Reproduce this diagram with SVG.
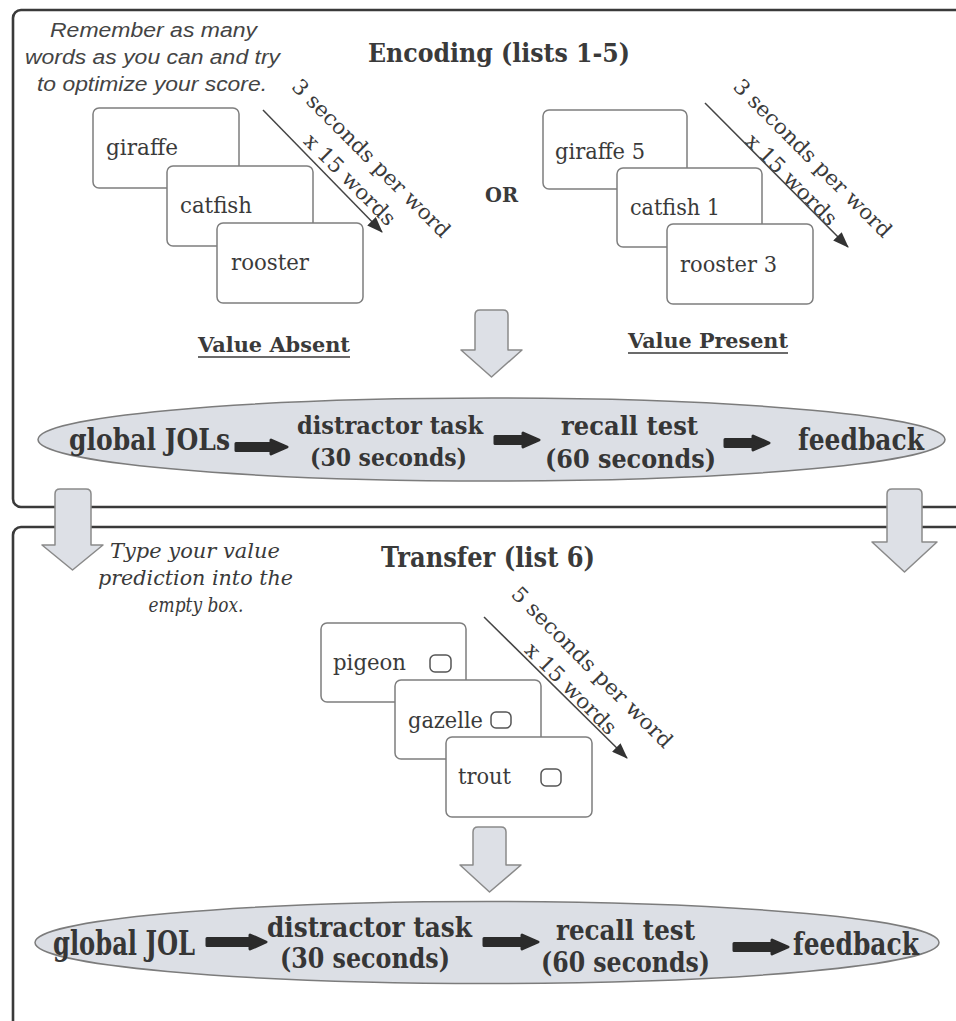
<svg xmlns="http://www.w3.org/2000/svg" width="956" height="1021" viewBox="0 0 956 1021">
<style>
.panel{fill:none;stroke:#3a3a3a;stroke-width:2.6}
.card{fill:#ffffff;stroke:#7e7e7e;stroke-width:1.5}
.cw{font-family:"DejaVu Serif","Liberation Serif",serif;font-size:23px;fill:#3a3a3a}
.title{font-family:"DejaVu Serif","Liberation Serif",serif;font-weight:bold;fill:#3a3a3a}
.diag{font-family:"DejaVu Serif","Liberation Serif",serif;font-size:21px;fill:#3a3a3a}
.note{font-family:"Liberation Sans",Arial,sans-serif;font-style:italic;font-size:20px;fill:#444444}
.note2{font-family:"DejaVu Serif","Liberation Serif",serif;font-style:italic;font-size:21px;fill:#3a3a3a}
.ell{fill:#dcdfe5;stroke:#7c7c7c;stroke-width:1.5}
.et{font-family:"DejaVu Serif","Liberation Serif",serif;font-weight:bold;fill:#363636}
.blk{fill:#2b2b2b;stroke:#2b2b2b;stroke-width:3;stroke-linejoin:round}
.big{fill:#dde0e6;stroke:#8a8a8a;stroke-width:1.5;stroke-linejoin:round}
.dl{stroke:#444444;stroke-width:1.5;fill:none}
.cb{fill:#ffffff;stroke:#555555;stroke-width:1.5}
</style>
<defs>
<marker id="ah" viewBox="0 0 16 12" refX="15" refY="6" markerWidth="16" markerHeight="12" markerUnits="userSpaceOnUse" orient="auto">
<path d="M0,0 L16,6 L0,12 Z" fill="#333333"/>
</marker>
</defs>

<g id="panel-encoding">
<rect class="panel" x="13" y="10" width="980" height="497" rx="8"/>
</g>
<g id="panel-transfer">
<rect class="panel" x="13" y="527" width="980" height="540" rx="8"/>
</g>

<g id="encoding-title">
<text class="title" x="368" y="62" font-size="26" textLength="262" lengthAdjust="spacingAndGlyphs">Encoding (lists 1-5)</text>
</g>
<g id="encoding-instruction">
<text class="note" x="153.5" y="37" text-anchor="middle" textLength="207" lengthAdjust="spacingAndGlyphs">Remember as many</text>
<text class="note" x="152.5" y="64" text-anchor="middle" textLength="255" lengthAdjust="spacingAndGlyphs">words as you can and try</text>
<text class="note" x="152" y="91" text-anchor="middle" textLength="230" lengthAdjust="spacingAndGlyphs">to optimize your score.</text>
</g>

<g id="cards-absent">
<rect class="card" x="93" y="108" width="146" height="80" rx="6"/>
<text class="cw" x="106" y="155" textLength="72" lengthAdjust="spacingAndGlyphs">giraffe</text>
<rect class="card" x="167" y="166" width="146" height="80" rx="6"/>
<text class="cw" x="180" y="213" textLength="72" lengthAdjust="spacingAndGlyphs">catfish</text>
<rect class="card" x="217" y="223" width="146" height="80" rx="6"/>
<text class="cw" x="231" y="270" textLength="78" lengthAdjust="spacingAndGlyphs">rooster</text>
</g>

<g id="cards-present">
<rect class="card" x="543" y="110" width="144" height="79" rx="6"/>
<text class="cw" x="555" y="159" textLength="90" lengthAdjust="spacingAndGlyphs">giraffe 5</text>
<rect class="card" x="617" y="168" width="145" height="79" rx="6"/>
<text class="cw" x="630" y="215" textLength="90" lengthAdjust="spacingAndGlyphs">catfish 1</text>
<rect class="card" x="667" y="224" width="146" height="80" rx="6"/>
<text class="cw" x="680" y="272" textLength="97" lengthAdjust="spacingAndGlyphs">rooster 3</text>
</g>

<g id="timing-absent">
<g transform="translate(360.5,169) rotate(45)">
<text class="diag" x="0" y="-8" text-anchor="middle" textLength="214" lengthAdjust="spacingAndGlyphs">3 seconds per word</text>
<text class="diag" x="0" y="22" text-anchor="middle" textLength="120" lengthAdjust="spacingAndGlyphs">x 15 words</text>
</g>
</g>
<g id="timing-present">
<g transform="translate(802,169) rotate(45)">
<text class="diag" x="0" y="-8" text-anchor="middle" textLength="214" lengthAdjust="spacingAndGlyphs">3 seconds per word</text>
<text class="diag" x="0" y="22" text-anchor="middle" textLength="120" lengthAdjust="spacingAndGlyphs">x 15 words</text>
</g>
</g>

<g id="or-label">
<text class="title" x="485" y="202" font-size="20" textLength="33" lengthAdjust="spacingAndGlyphs">OR</text>
</g>
<g id="label-absent">
<text class="title" x="198" y="352" font-size="21" textLength="152" lengthAdjust="spacingAndGlyphs">Value Absent</text>
<line x1="198" y1="357" x2="350" y2="357" stroke="#3a3a3a" stroke-width="1.6"/>
</g>
<g id="label-present">
<text class="title" x="628" y="348" font-size="21" textLength="160" lengthAdjust="spacingAndGlyphs">Value Present</text>
<line x1="628" y1="353" x2="788" y2="353" stroke="#3a3a3a" stroke-width="1.6"/>
</g>

<g id="encoding-sequence">
<ellipse class="ell" cx="491.5" cy="439.5" rx="453.5" ry="41.5"/>
<text class="et" x="69" y="450" font-size="30" textLength="161" lengthAdjust="spacingAndGlyphs">global JOLs</text>
<text class="et" x="297" y="434" font-size="25" textLength="186" lengthAdjust="spacingAndGlyphs">distractor task</text>
<text class="et" x="310" y="466" font-size="25" textLength="157" lengthAdjust="spacingAndGlyphs">(30 seconds)</text>
<text class="et" x="561" y="435" font-size="26" textLength="137" lengthAdjust="spacingAndGlyphs">recall test</text>
<text class="et" x="545" y="468" font-size="26" textLength="171" lengthAdjust="spacingAndGlyphs">(60 seconds)</text>
<text class="et" x="798" y="450" font-size="30" textLength="126" lengthAdjust="spacingAndGlyphs">feedback</text>
</g>

<g id="transfer-title">
<text class="title" x="381" y="567" font-size="27" textLength="214" lengthAdjust="spacingAndGlyphs">Transfer (list 6)</text>
</g>
<g id="transfer-instruction">
<text class="note2" x="195" y="558" text-anchor="middle" textLength="170" lengthAdjust="spacingAndGlyphs">Type your value</text>
<text class="note2" x="195.5" y="585" text-anchor="middle" textLength="195" lengthAdjust="spacingAndGlyphs">prediction into the</text>
<text class="note2" x="196" y="612" text-anchor="middle" textLength="95" lengthAdjust="spacingAndGlyphs">empty box.</text>
</g>

<g id="cards-transfer">
<rect class="card" x="321" y="623" width="145" height="79" rx="6"/>
<text class="cw" x="333" y="670" textLength="73" lengthAdjust="spacingAndGlyphs">pigeon</text>
<rect class="cb" x="430" y="655" width="21" height="17" rx="5"/>
<rect class="card" x="395" y="680" width="146" height="79" rx="6"/>
<text class="cw" x="408" y="728" textLength="75" lengthAdjust="spacingAndGlyphs">gazelle</text>
<rect class="cb" x="491" y="712" width="20" height="16" rx="5"/>
<rect class="card" x="446" y="737" width="146" height="80" rx="6"/>
<text class="cw" x="458" y="784" textLength="53" lengthAdjust="spacingAndGlyphs">trout</text>
<rect class="cb" x="541" y="769" width="20" height="17" rx="5"/>
</g>

<g id="timing-transfer">
<g transform="translate(581.5,678) rotate(45)">
<text class="diag" x="0" y="-8" text-anchor="middle" textLength="218" lengthAdjust="spacingAndGlyphs">5 seconds per word</text>
<text class="diag" x="0" y="22" text-anchor="middle" textLength="120" lengthAdjust="spacingAndGlyphs">x 15 words</text>
</g>
</g>

<g id="transfer-sequence">
<ellipse class="ell" cx="487" cy="942.5" rx="452" ry="41"/>
<text class="et" x="53" y="955" font-size="33" textLength="142" lengthAdjust="spacingAndGlyphs">global JOL</text>
<text class="et" x="267" y="937" font-size="28" textLength="205" lengthAdjust="spacingAndGlyphs">distractor task</text>
<text class="et" x="280" y="968" font-size="28" textLength="170" lengthAdjust="spacingAndGlyphs">(30 seconds)</text>
<text class="et" x="556" y="940" font-size="28" textLength="139" lengthAdjust="spacingAndGlyphs">recall test</text>
<text class="et" x="541" y="972" font-size="28" textLength="169" lengthAdjust="spacingAndGlyphs">(60 seconds)</text>
<text class="et" x="793" y="955" font-size="32" textLength="126" lengthAdjust="spacingAndGlyphs">feedback</text>
</g>

<g id="connectors">
<line class="dl" x1="263" y1="110" x2="382" y2="232" marker-end="url(#ah)"/>
<line class="dl" x1="705" y1="103" x2="848" y2="247" marker-end="url(#ah)"/>
<line class="dl" x1="484" y1="617" x2="627" y2="758" marker-end="url(#ah)"/>
<path class="big" d="M475,315 Q475,310 480,310 L503,310 Q508,310 508,315 L508,350 L522,350 L491.5,377 L461,350 L475,350 Z"/>
<path class="big" d="M473,832 Q473,827 478,827 L501,827 Q506,827 506,832 L506,865 L521,865 L489.5,892 L460,865 L473,865 Z"/>
<path class="big" d="M55,494 Q55,489 60,489 L86,489 Q91,489 91,494 L91,545 L103,545 L72.5,570 L42,545 L55,545 Z"/>
<path class="big" d="M887,494 Q887,489 892,489 L917,489 Q922,489 922,494 L922,542 L937,542 L904.5,572 L872,542 L887,542 Z"/>
<path class="blk" d="M236,443.5 L271,443.5 L271,440 L287,447 L271,454 L271,450.5 L236,450.5 Z"/>
<path class="blk" d="M495,436.5 L523,436.5 L523,433 L539,440 L523,447 L523,443.5 L495,443.5 Z"/>
<path class="blk" d="M725,439.5 L753,439.5 L753,436 L769,443 L753,450 L753,446.5 L725,446.5 Z"/>
<path class="blk" d="M207,938.5 L250,938.5 L250,935 L266,942 L250,949 L250,945.5 L207,945.5 Z"/>
<path class="blk" d="M484,938.5 L522,938.5 L522,935 L538,942 L522,949 L522,945.5 L484,945.5 Z"/>
<path class="blk" d="M734,943.5 L772,943.5 L772,940 L788,947 L772,954 L772,950.5 L734,950.5 Z"/>
</g>
</svg>
